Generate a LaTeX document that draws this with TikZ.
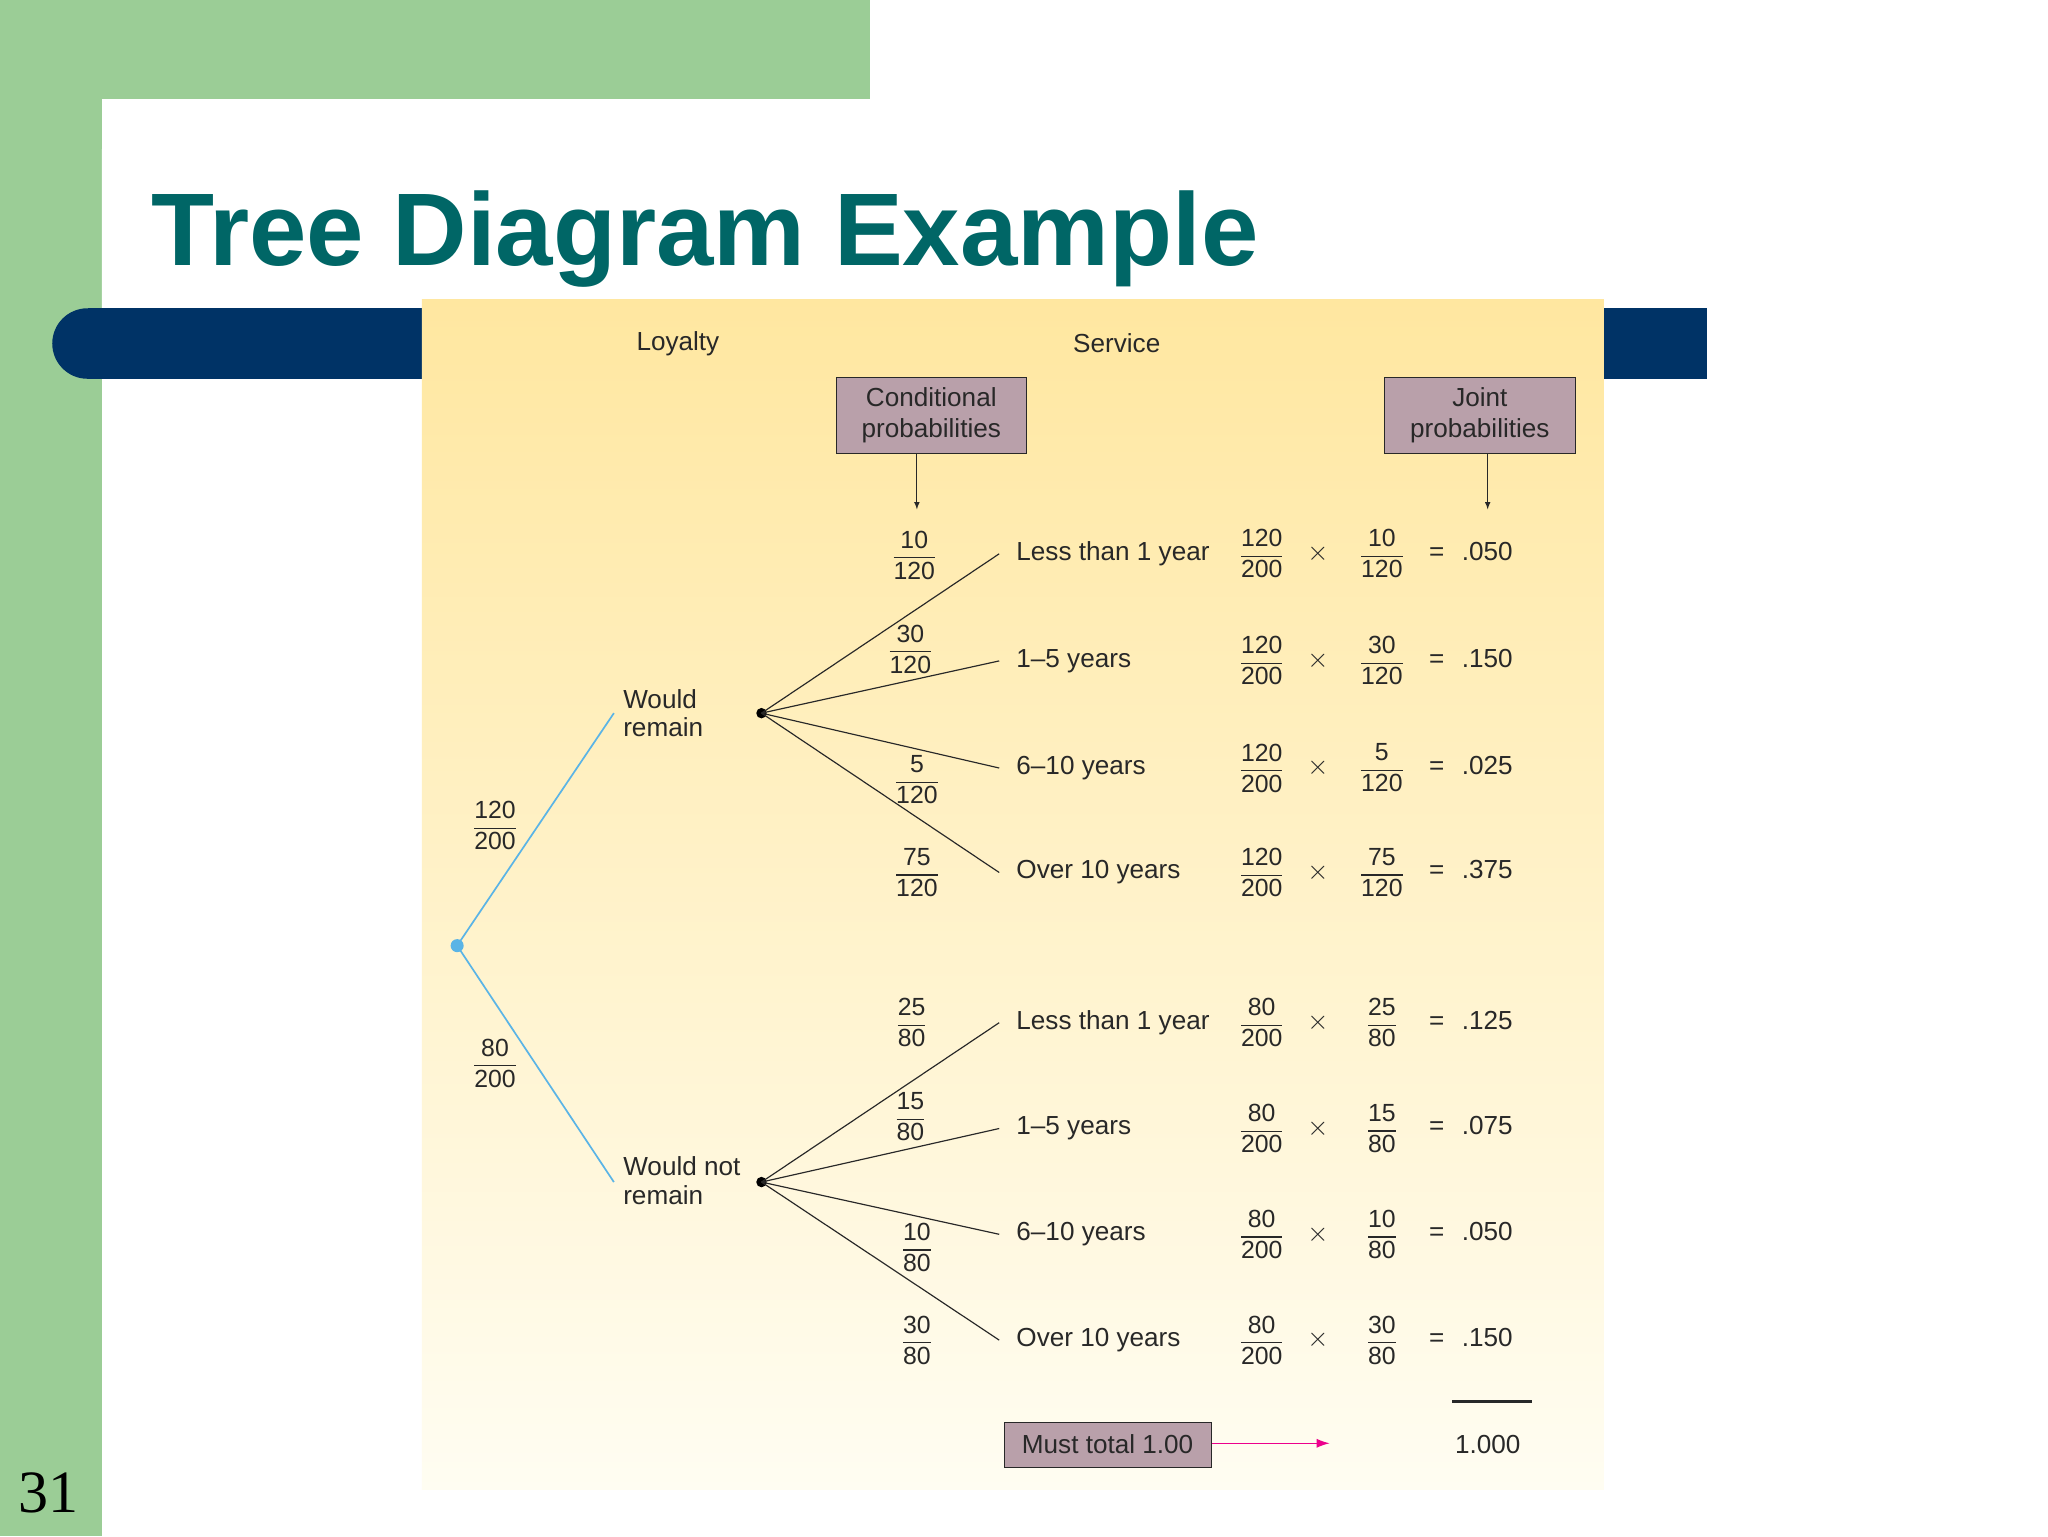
\documentclass[tikz,border=0pt]{standalone}
\usepackage{amsmath}
\usepackage{fontspec}
\usetikzlibrary{arrows.meta}
\setmainfont{Liberation Sans}
\definecolor{grn}{RGB}{155,205,150}
\definecolor{teal}{RGB}{0,102,102}
\definecolor{navy}{RGB}{0,51,102}
\definecolor{mauve}{RGB}{185,160,170}
\definecolor{ytop}{RGB}{255,231,160}
\definecolor{ybot}{RGB}{255,253,242}
\definecolor{blu}{RGB}{90,180,230}
\definecolor{txt}{RGB}{40,40,40}
\newcommand\fr[2]{$\genfrac{}{}{0.9pt}{0}{\text{#1}}{\text{#2}}$}
\tikzset{
 lab/.style={font=\fontsize{20}{22}\selectfont,text=txt,inner sep=1pt},
 frac/.style={font=\fontsize{19}{20}\selectfont,text=txt,inner sep=0pt},
 box/.style={draw=txt,fill=mauve,font=\fontsize{20}{24}\selectfont,text=txt,align=center,inner sep=3pt},
 br/.style={draw=txt,line width=0.9pt},
 dot/.style={circle,fill=black,inner sep=0pt,minimum size=8pt}
}
\begin{document}
\begin{tikzpicture}[x=1pt,y=-1pt]
\useasboundingbox (0,0) rectangle (1568,1176);
\fill[white] (0,0) rectangle (1568,1176);
\fill[grn] (0,0) rectangle (78,1176);
\fill[grn] (0,0) rectangle (666,76);
\fill[white,rounded corners=40pt] (78,76) rectangle (700,300);
\fill[white] (78,110) rectangle (700,300);
\node[anchor=base west,inner sep=0pt,text=teal,font=\fontsize{79}{86}\selectfont\bfseries] (title) at (116,203) {Tree Diagram Example};
\fill[navy] (67,236) rectangle (1307,290);
\fill[navy] (67,263) circle[radius=27];
\shade[top color=ytop,bottom color=ybot] (323,229) rectangle (1228,1140);
\node[anchor=base west,inner sep=0pt,font=\fontsize{46}{50}\selectfont\rmfamily] (pg) at (14,1158) {\fontspec{Liberation Serif}31};
% headers
\node[lab] (loy) at (519,263) {Loyalty};
\node[lab] (ser) at (855,263) {Service};
\node[box,minimum width=146pt,minimum height=58pt] (cp) at (713,318) {Conditional\\probabilities};
\node[box,minimum width=146pt,minimum height=58pt] (jp) at (1133,318) {Joint\\probabilities};
\coordinate (cpa) at (702,390); \coordinate (jpa) at (1139,390);
\draw[-latex,txt,line width=0.9pt] (cp.south -| cpa) -- (cpa);
\draw[-latex,txt,line width=0.9pt] (jp.south -| jpa) -- (jpa);
% tree
\node[circle,fill=blu,inner sep=0pt,minimum size=10pt] (root) at (350,724) {};
\coordinate (wr) at (470,546); \coordinate (wn) at (470,905);
\draw[blu,line width=1.3pt] (root.center) -- (wr);
\draw[blu,line width=1.3pt] (root.center) -- (wn);
\node[frac] (f1) at (379,632) {\fr{120}{200}};
\node[frac] (f2) at (379,814) {\fr{80}{200}};
\node[lab,anchor=west,align=left] (wrl) at (476,546) {Would\\remain};
\node[lab,anchor=west,align=left] (wnl) at (476,904) {Would not\\remain};
\node[dot] (a) at (583,546) {};
\node[dot] (b) at (583,905) {};
\foreach \y/\n/\t/\fa/\fb/\ja/\jb/\r/\fx/\fy [count=\i] in {
 424/a/Less than 1 year/10/120/120/200/.050/700/425,
 506/a/1--5 years/30/120/120/200/.150/697/497,
 588/a/6--10 years/5/120/120/200/.025/702/597,
 668/a/Over 10 years/75/120/120/200/.375/702/668,
 783/b/Less than 1 year/25/80/80/200/.125/698/783,
 864/b/1--5 years/15/80/80/200/.075/697/855,
 945/b/6--10 years/10/80/80/200/.050/702/955,
 1026/b/Over 10 years/30/80/80/200/.150/702/1026}{
 \coordinate (e\i) at (765,\y);
 \draw[br] (\n.center) -- (e\i);
 \node[lab,anchor=west] (s\i) at (777,\y) {\t};
 \node[frac] (c\i) at (\fx,\fy) {\fr{\fa}{\fb}};
 \node[frac] (ja\i) at (966,\y) {\fr{\ja}{\jb}};
 \node[lab] (x\i) at (1009,\y) {$\times$};
 \node[frac] (jb\i) at (1058,\y) {\fr{\fa}{\fb}};
 \node[lab] (q\i) at (1100,\y) {=};
 \node[lab,anchor=west] (r\i) at (1118,\y-2) {\r};
}
\coordinate (l1) at (1112,1073); \coordinate (l2) at (1173,1073);
\draw[txt,line width=2.5pt] (l1) -- (l2);
\node[lab] (tot) at (1139,1106) {1.000};
\node[box,minimum width=159pt,minimum height=34pt] (mt) at (848,1106) {Must total 1.00};
\coordinate (pa) at (1018,1105);
\draw[-{Latex[length=10pt,width=7pt]},magenta,line width=0.9pt] (mt.east |- pa) -- (pa);
\end{tikzpicture}
\end{document}
